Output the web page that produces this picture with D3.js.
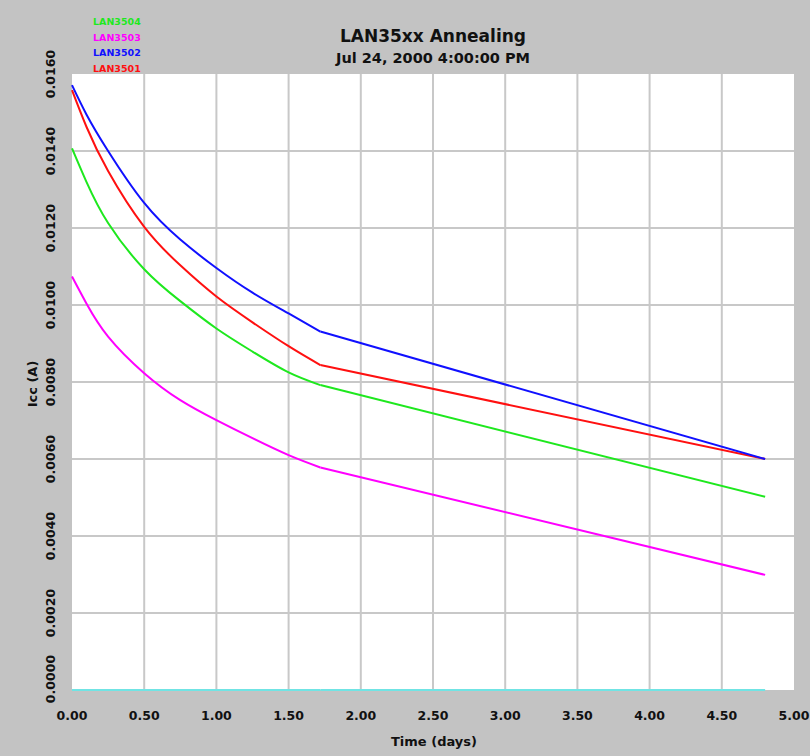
<!DOCTYPE html>
<html>
<head>
<meta charset="utf-8">
<script src="https://cdn.jsdelivr.net/npm/d3@7"></script>
<style>
  html, body { margin: 0; padding: 0; background: #c3c3c3; }
  svg { display: block; }
  text { font-family: "DejaVu Sans", Verdana, sans-serif; font-weight: bold; }
</style>
</head>
<body>
<svg id="chart" width="810" height="756"></svg>
<script>
// ---- data ----
const times = [0, 0.1, 0.25, 0.5, 0.75, 1.0, 1.25, 1.5, 1.72, 4.8];
const lan3501 = [0.01558, 0.01463, 0.01348, 0.01203, 0.01103, 0.01022, 0.00955, 0.00893, 0.00844, 0.00600];
const lan3502 = [0.01571, 0.01495, 0.01400, 0.01265, 0.01170, 0.01096, 0.01032, 0.00978, 0.00931, 0.00600];
const lan3503 = [0.01074, 0.01004, 0.00918, 0.00823, 0.00753, 0.00701, 0.00654, 0.00610, 0.00578, 0.00299];
const lan3504 = [0.01407, 0.01320, 0.01213, 0.01093, 0.01010, 0.00939, 0.00879, 0.00825, 0.00792, 0.00502];
const baseline = [0, 0, 0, 0, 0, 0, 0, 0, 0, 0];
const seriesNames = ["LAN3504", "LAN3503", "LAN3502", "LAN3501"];
const seriesColors = ["#1ee81e", "#ff00ff", "#1010ff", "#ff1010"];
const xTicks = [0, 0.5, 1.0, 1.5, 2.0, 2.5, 3.0, 3.5, 4.0, 4.5, 5.0];
const yTicks = [0, 0.002, 0.004, 0.006, 0.008, 0.010, 0.012, 0.014, 0.016];
const titleText = "LAN35xx Annealing";
const subtitleText = "Jul 24, 2000 4:00:00 PM";
const xTitle = "Time (days)";
const yTitle = "Icc (A)";

// ---- layout ----
const svg = d3.select("#chart");
const pL = 72, pR = 794, pT = 74, pB = 690;
const x = d3.scaleLinear().domain([0, 5]).range([pL, pR]);
const y = d3.scaleLinear().domain([0, 0.016]).range([pB, pT]);

svg.append("rect").attr("width", 810).attr("height", 756).attr("fill", "#c3c3c3");
svg.append("rect").attr("x", pL).attr("y", pT)
  .attr("width", pR - pL).attr("height", pB - pT).attr("fill", "#ffffff");

// grid
const grid = svg.append("g");
grid.selectAll("line.v").data(xTicks.filter(d => d > 0 && d < 5)).join("line")
  .attr("class", "v")
  .attr("x1", d => x(d)).attr("x2", d => x(d)).attr("y1", pT).attr("y2", pB)
  .attr("stroke", "#c8c8c8").attr("stroke-width", 2);
grid.selectAll("line.h").data(yTicks.filter(d => d > 0 && d < 0.016)).join("line")
  .attr("class", "h")
  .attr("y1", d => y(d)).attr("y2", d => y(d)).attr("x1", pL).attr("x2", pR)
  .attr("stroke", "#c8c8c8").attr("stroke-width", 2);

// x tick labels
svg.append("g").selectAll("text").data(xTicks).join("text")
  .attr("x", d => x(d)).attr("y", 720)
  .attr("text-anchor", "middle").attr("font-size", "12.5px").attr("fill", "#111")
  .text(d => d3.format(".2f")(d));

// y tick labels (rotated)
svg.append("g").selectAll("text").data(yTicks).join("text")
  .attr("transform", (d, i) => `translate(55,${y(d) - (i === 0 ? 11 : 0)}) rotate(-90)`)
  .attr("text-anchor", "middle").attr("font-size", "12.5px").attr("fill", "#111")
  .text(d => d3.format(".4f")(d));

// axis titles
svg.append("text").attr("x", 434).attr("y", 746).attr("text-anchor", "middle")
  .attr("font-size", "13px").attr("fill", "#111").text(xTitle);
svg.append("text").attr("transform", `translate(37,384) rotate(-90)`)
  .attr("text-anchor", "middle").attr("font-size", "13px").attr("fill", "#111").text(yTitle);

// titles
svg.append("text").attr("x", 433).attr("y", 42).attr("text-anchor", "middle")
  .attr("font-size", "17px").attr("fill", "#111").text(titleText);
svg.append("text").attr("x", 433).attr("y", 63).attr("text-anchor", "middle")
  .attr("font-size", "14.5px").attr("fill", "#111").text(subtitleText);

// legend
svg.append("g").selectAll("text").data(seriesNames).join("text")
  .attr("x", 93).attr("y", (d, i) => 25 + i * 15.6)
  .attr("font-size", "9.5px").attr("fill", (d, i) => seriesColors[i]).text(d => d);

// lines: smooth decay part, then straight tail
const pts = v => v.map((d, i) => [times[i], d]);
const curveLine = d3.line().x(d => x(d[0])).y(d => y(d[1])).curve(d3.curveNatural);
const straightLine = d3.line().x(d => x(d[0])).y(d => y(d[1]));
const data = [
  { v: baseline, c: "#70e4e4" },
  { v: lan3503, c: seriesColors[1] },
  { v: lan3504, c: seriesColors[0] },
  { v: lan3501, c: seriesColors[3] },
  { v: lan3502, c: seriesColors[2] }
];
const g = svg.append("g");
data.forEach(s => {
  const p = pts(s.v);
  const n = p.length;
  g.append("path").attr("d", curveLine(p.slice(0, n - 1)))
    .attr("fill", "none").attr("stroke", s.c).attr("stroke-width", 2);
  g.append("path").attr("d", straightLine(p.slice(n - 2)))
    .attr("fill", "none").attr("stroke", s.c).attr("stroke-width", 2);
});
</script>
</body>
</html>
